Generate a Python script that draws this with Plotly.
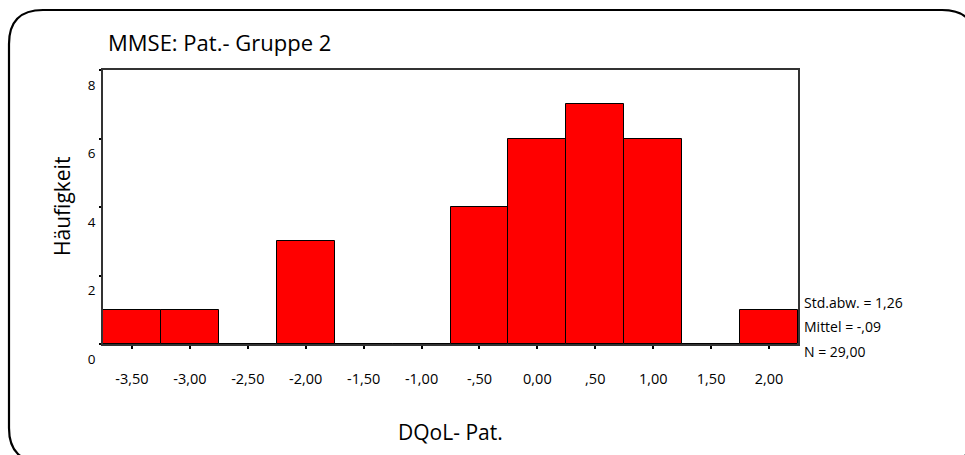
import plotly.graph_objects as go

# Histogram of DQoL- Pat. (bin centres, width 0.5) and counts
bin_centers = [-3.5, -3.0, -2.5, -2.0, -1.5, -1.0, -0.5, 0.0, 0.5, 1.0, 1.5, 2.0]
counts = [1, 1, 0, 3, 0, 0, 4, 6, 7, 6, 0, 1]
x_tick_labels = ["-3,50", "-3,00", "-2,50", "-2,00", "-1,50", "-1,00",
                 "-,50", "0,00", ",50", "1,00", "1,50", "2,00"]
y_ticks = [0, 2, 4, 6, 8]
stats_lines = ["Std.abw. = 1,26", "Mittel = -,09", "N = 29,00"]

W, H = 965, 455
L, R, T, B = 103, 798, 70, 344          # plot area in pixels
FONT = "Open Sans"


def px_x(p):
    return (p - L) / (R - L)


def px_y(p):
    return (B - p) / (B - T)


fig = go.Figure()
fig.add_trace(go.Bar(
    x=bin_centers, y=counts, width=0.5,
    marker=dict(color="#ff0000", line=dict(color="#000000", width=1)),
    hoverinfo="x+y",
))

# Rounded outer border, partly running off the page
x0, y0, x1, y1, r = 9, 10, 976, 462, 34
path = (
    f"M {px_x(x0 + r)},{px_y(y0)} L {px_x(x1 - r)},{px_y(y0)} "
    f"Q {px_x(x1)},{px_y(y0)} {px_x(x1)},{px_y(y0 + r)} "
    f"L {px_x(x1)},{px_y(y1 - r)} "
    f"Q {px_x(x1)},{px_y(y1)} {px_x(x1 - r)},{px_y(y1)} "
    f"L {px_x(x0 + r)},{px_y(y1)} "
    f"Q {px_x(x0)},{px_y(y1)} {px_x(x0)},{px_y(y1 - r)} "
    f"L {px_x(x0)},{px_y(y0 + r)} "
    f"Q {px_x(x0)},{px_y(y0)} {px_x(x0 + r)},{px_y(y0)} Z"
)
fig.add_shape(type="path", path=path, xref="paper", yref="paper",
              line=dict(color="#000000", width=2.2), layer="above")

annotations = [
    dict(text="Häufigkeit", x=px_x(62), y=px_y(207), xref="paper", yref="paper",
         xanchor="center", yanchor="middle",
         textangle=-90, showarrow=False, font=dict(size=21, color="#000")),
    dict(text="DQoL- Pat.", x=px_x(451), y=px_y(432), xref="paper", yref="paper",
         xanchor="center", yanchor="middle",
         showarrow=False, font=dict(size=21, color="#000")),
]
for line, ypix in zip(stats_lines, [302, 326, 351]):
    annotations.append(dict(text=line, x=px_x(802), y=px_y(ypix), xref="paper",
                            yref="paper", xanchor="left", yanchor="middle",
                            showarrow=False,
                            font=dict(size=14, color="#000")))

fig.update_layout(
    width=W, height=H,
    margin=dict(l=L, r=W - R, t=T, b=H - B, pad=0),
    paper_bgcolor="white", plot_bgcolor="white",
    font=dict(family=FONT, color="#000"),
    bargap=0, showlegend=False,
    title=dict(text="MMSE: Pat.- Gruppe 2", x=108 / W, xanchor="left",
               y=1 - 43 / H, yanchor="middle", font=dict(size=22, color="#000")),
    annotations=annotations,
)
fig.update_xaxes(
    range=[-3.75, 2.25], tickvals=bin_centers, ticktext=x_tick_labels,
    ticks="outside", ticklen=3, tickwidth=2, tickcolor="#000",
    ticklabelstandoff=18, tickfont=dict(size=14.5),
    showline=True, linecolor="#333", linewidth=1.5, mirror=True,
    showgrid=False, zeroline=False, fixedrange=True,
)
fig.update_yaxes(
    range=[0, 8], tickvals=y_ticks, ticktext=[str(v) for v in y_ticks],
    ticks="outside", ticklen=2, tickwidth=2, tickcolor="#000",
    ticklabelshift=15, ticklabelstandoff=1, tickfont=dict(size=13.5),
    showline=True, linecolor="#333", linewidth=1.5, mirror=True,
    showgrid=False, zeroline=False, fixedrange=True,
)

fig.write_html("out.html")
